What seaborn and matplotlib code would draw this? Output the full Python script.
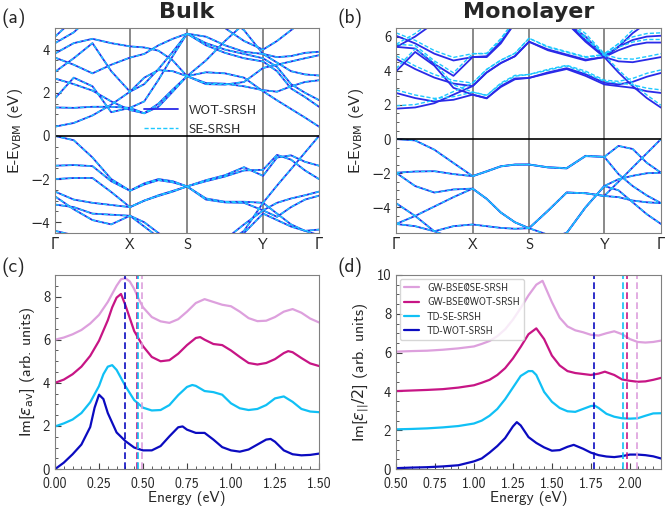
import numpy as np
import matplotlib
matplotlib.use("Agg")
import matplotlib.pyplot as plt
import seaborn as sns
from matplotlib.lines import Line2D
from matplotlib.ticker import MultipleLocator

# ---------------- data ----------------
# high-symmetry points (fraction of the k-path), 4 steps between nodes
kpath_labels = ["Γ", "X", "S", "Y", "Γ"]
bulk_knodes = [0.0, 0.284, 0.5, 0.788, 1.0]
mono_knodes = [0.0, 0.289, 0.502, 0.786, 1.0]

# bulk, WOT-SRSH (SE-SRSH lies on top of these within a pixel)
bulk_vb = [
    [0, -0.2, -1.0, -2.0, -2.54, -2.2, -2.0, -2.1, -2.34, -2.1, -1.88, -1.6, -1.57, -0.88, -1.1, -1.6, -2.0],
    [-1.38, -1.35, -1.4, -2.1, -2.54, -2.25, -2.05, -2.15, -2.34, -2.05, -1.82, -1.45, -1.85, -1.0, -0.9, -1.2, -1.38],
    [-2.0, -1.95, -1.95, -2.6, -3.3, -3.0, -2.75, -2.55, -2.34, -2.9, -3.05, -3.05, -3.1, -2.3, -1.54, -0.77, 0.0],
    [-2.58, -2.95, -3.1, -3.2, -3.3, -3.0, -2.78, -2.58, -2.34, -2.95, -3.08, -3.1, -3.45, -3.1, -2.9, -2.75, -2.58],
    [-3.18, -3.3, -3.6, -3.65, -3.7, -4.2, -4.7, -5.0, -5.2, -5.0, -4.8, -4.1, -3.45, -3.75, -3.3, -2.95, -2.77],
    [-2.8, -3.4, -3.9, -4.1, -3.7, -4.0, -4.5, -4.9, -5.2, -5.1, -4.95, -4.5, -3.6, -3.9, -4.2, -4.4, -4.34],
    [-4.4, -4.6, -4.9, -5.0, -5.0, -5.0, -5.0, -5.0, -5.0, -5.0, -5.0, -4.4, -3.1, -3.6, -4.1, -4.4, -4.6],
]
bulk_cb = [
    [0.43, 0.6, 0.95, 1.45, 2.05, 2.7, 3.05, 3.0, 2.77, 2.4, 2.38, 2.5, 3.15, 3.3, 3.45, 3.6, 3.74],
    [1.32, 1.3, 1.35, 1.35, 1.3, 1.05, 1.5, 2.15, 2.77, 2.95, 2.9, 2.7, 2.07, 1.65, 1.25, 0.85, 0.43],
    [1.74, 2.7, 2.3, 1.1, 1.3, 1.6, 2.6, 3.7, 4.74, 4.2, 3.85, 3.6, 3.45, 3.0, 2.2, 1.8, 1.35],
    [2.66, 2.4, 2.1, 1.6, 1.2, 1.05, 1.35, 2.05, 2.77, 2.45, 2.42, 2.3, 2.12, 2.05, 2.3, 2.5, 2.58],
    [2.97, 3.6, 4.3, 3.0, 2.05, 2.4, 3.1, 3.9, 4.74, 4.3, 4.0, 3.8, 3.6, 3.2, 2.4, 2.0, 1.66],
    [3.63, 3.3, 2.9, 3.3, 3.63, 3.8, 4.2, 4.5, 4.74, 4.6, 4.2, 3.9, 3.8, 3.4, 3.0, 2.85, 2.8],
    [3.82, 4.3, 4.5, 4.3, 4.15, 4.1, 3.95, 3.5, 2.77, 3.5, 4.4, 5.2, 5.6, 5.6, 5.6, 5.6, 5.6],
    [4.3, 4.8, 5.6, 5.6, 5.6, 5.6, 5.6, 5.6, 5.6, 5.6, 5.0, 4.4, 4.0, 4.4, 4.9, 5.4, 5.6],
    [4.6, 5.4, 5.6, 5.6, 5.6, 5.6, 5.6, 5.6, 5.6, 5.6, 5.6, 4.9, 3.8, 3.65, 3.7, 3.85, 3.9],
]

# monolayer valence bands (WOT and SE coincide)
mono_vb = [
    [0, -0.08, -0.62, -1.4, -2.17, -1.88, -1.59, -1.49, -1.49, -1.65, -1.7, -0.98, -1.04, -0.4, -0.58, -1.39, -1.97],
    [-1.97, -1.9, -1.88, -2.05, -2.17, -1.9, -1.6, -1.5, -1.49, -1.66, -1.72, -1.0, -1.04, -2.05, -2.75, -3.3, -3.75],
    [-1.97, -2.75, -3.13, -2.95, -2.9, -3.5, -4.3, -4.87, -5.22, -4.2, -3.13, -3.17, -3.33, -2.5, -1.66, -0.83, 0.0],
    [-3.75, -4.5, -5.4, -5.8, -5.8, -5.8, -5.8, -5.8, -5.8, -5.8, -5.5, -4.0, -2.75, -2.35, -2.15, -2.0, -1.97],
    [-4.97, -4.5, -3.95, -3.4, -2.9, -3.5, -4.3, -4.87, -5.22, -5.6, -5.8, -5.8, -5.8, -5.8, -5.8, -5.8, -5.8],
    [-4.97, -5.1, -5.4, -5.1, -5.0, -5.1, -5.2, -5.25, -5.22, -4.2, -3.13, -3.17, -3.33, -3.4, -3.6, -3.7, -3.75],
    [-5.8, -5.8, -5.8, -5.8, -5.8, -5.8, -5.8, -5.8, -5.8, -5.8, -5.5, -4.0, -2.75, -3.0, -3.7, -4.4, -4.97],
]
mono_cb_wot = [
    [1.78, 1.85, 2.1, 2.6, 3.1, 3.9, 4.45, 4.85, 5.7, 5.2, 4.9, 4.6, 4.8, 3.9, 3.1, 2.4, 1.84],
    [2.7, 2.4, 2.2, 2.3, 2.6, 2.38, 3.1, 3.55, 3.58, 3.9, 4.15, 3.8, 3.3, 3.2, 3.35, 3.65, 3.87],
    [3.96, 5.1, 4.3, 3.0, 2.6, 2.4, 3.05, 3.5, 3.58, 3.85, 4.1, 3.7, 3.2, 3.1, 3.0, 2.8, 2.7],
    [5.4, 5.3, 4.4, 3.7, 4.8, 4.8, 5.6, 6.8, 6.8, 6.8, 6.8, 5.7, 4.8, 4.55, 4.5, 4.65, 4.8],
    [4.7, 4.1, 3.6, 3.25, 3.1, 3.9, 4.45, 4.85, 5.7, 5.25, 4.95, 4.65, 4.8, 5.2, 5.5, 5.65, 5.65],
    [6.05, 5.6, 5.0, 4.6, 4.8, 4.85, 5.7, 6.8, 6.8, 6.8, 6.8, 6.0, 4.85, 5.4, 5.8, 6.0, 6.05],
    [5.38, 6.0, 6.8, 6.8, 6.8, 6.8, 6.8, 6.8, 6.8, 6.8, 6.8, 5.8, 4.8, 5.4, 6.2, 6.8, 6.8],
]
mono_cb_se = [
    [1.95, 2.02, 2.28, 2.78, 3.28, 4.08, 4.62, 5.02, 5.9, 5.38, 5.08, 4.78, 4.92, 4.05, 3.28, 2.58, 1.98],
    [2.88, 2.58, 2.38, 2.48, 2.75, 2.55, 3.28, 3.73, 3.78, 4.08, 4.32, 3.98, 3.45, 3.38, 3.55, 3.85, 4.05],
    [4.12, 5.28, 4.48, 3.18, 2.75, 2.57, 3.22, 3.68, 3.78, 4.03, 4.28, 3.88, 3.38, 3.28, 3.18, 2.98, 2.88],
    [5.55, 5.48, 4.58, 3.88, 5.0, 5.0, 5.8, 7.0, 7.0, 7.0, 7.0, 5.88, 4.95, 4.72, 4.68, 4.83, 5.0],
    [4.88, 4.28, 3.78, 3.43, 3.28, 4.08, 4.62, 5.02, 5.9, 5.42, 5.12, 4.82, 4.95, 5.38, 5.68, 5.83, 5.83],
    [6.22, 5.78, 5.18, 4.78, 5.0, 5.02, 5.88, 7.0, 7.0, 7.0, 7.0, 6.18, 5.0, 5.58, 5.98, 6.18, 6.22],
    [5.55, 6.18, 7.0, 7.0, 7.0, 7.0, 7.0, 7.0, 7.0, 7.0, 7.0, 5.98, 4.95, 5.58, 6.38, 7.0, 7.0],
]

# (c) bulk spectra
c_td_wot_x = [0, 0.05, 0.1, 0.15, 0.2, 0.225, 0.25, 0.275, 0.3, 0.35, 0.4, 0.45, 0.5, 0.55, 0.6, 0.65, 0.7, 0.725,
              0.75, 0.8, 0.85, 0.9, 0.95, 1.0, 1.05, 1.1, 1.15, 1.2, 1.225, 1.25, 1.3, 1.35, 1.4, 1.45, 1.5]
c_td_wot_y = [0, 0.3, 0.69, 1.14, 1.95, 2.85, 3.45, 3.25, 2.6, 1.7, 1.3, 1.0, 0.87, 0.87, 1.07, 1.52, 1.94, 1.98,
              1.83, 1.68, 1.68, 1.37, 1.02, 0.87, 0.81, 0.91, 1.14, 1.37, 1.4, 1.27, 0.87, 0.69, 0.64, 0.66, 0.72]
c_td_se_x = [0, 0.05, 0.1, 0.15, 0.2, 0.25, 0.275, 0.3, 0.325, 0.35, 0.4, 0.45, 0.5, 0.55, 0.6, 0.65, 0.7, 0.75,
             0.78, 0.8, 0.85, 0.9, 0.95, 1.0, 1.05, 1.1, 1.15, 1.2, 1.25, 1.3, 1.35, 1.4, 1.45, 1.5]
c_td_se_y = [1.98, 2.12, 2.3, 2.6, 3.1, 3.85, 4.4, 4.75, 4.82, 4.6, 3.85, 3.2, 2.85, 2.72, 2.74, 2.97, 3.43, 3.81,
             3.9, 3.86, 3.62, 3.57, 3.45, 3.05, 2.82, 2.74, 2.79, 2.97, 3.28, 3.37, 3.12, 2.79, 2.67, 2.64]
c_gw_wot_x = [0, 0.05, 0.1, 0.15, 0.2, 0.25, 0.3, 0.325, 0.35, 0.375, 0.4, 0.45, 0.5, 0.55, 0.6, 0.65, 0.7, 0.75,
              0.8, 0.825, 0.85, 0.9, 0.95, 1.0, 1.05, 1.1, 1.15, 1.2, 1.25, 1.3, 1.325, 1.35, 1.4, 1.45, 1.5]
c_gw_wot_y = [4.0, 4.15, 4.4, 4.75, 5.25, 5.95, 6.9, 7.5, 7.95, 8.12, 7.6, 6.4, 5.7, 5.2, 5.0, 5.05, 5.35, 5.75,
              6.08, 6.12, 6.0, 5.8, 5.75, 5.5, 5.2, 4.92, 4.85, 4.92, 5.1, 5.38, 5.47, 5.42, 5.15, 4.9, 4.78]
c_gw_se_x = [0, 0.05, 0.1, 0.15, 0.2, 0.25, 0.3, 0.35, 0.375, 0.4, 0.425, 0.45, 0.475, 0.5, 0.55, 0.6, 0.65, 0.7,
             0.75, 0.8, 0.85, 0.9, 0.95, 1.0, 1.05, 1.1, 1.15, 1.2, 1.25, 1.3, 1.35, 1.4, 1.45, 1.5]
c_gw_se_y = [6.0, 6.1, 6.25, 6.45, 6.75, 7.15, 7.75, 8.5, 8.8, 8.85, 8.7, 8.35, 7.9, 7.5, 7.05, 6.85, 6.78, 6.95,
             7.3, 7.7, 7.88, 7.75, 7.62, 7.55, 7.3, 7.0, 6.86, 6.88, 7.05, 7.3, 7.42, 7.25, 6.98, 6.8]
c_onsets = [0.40, 0.465, 0.473, 0.495]

# (d) monolayer spectra
d_td_wot_x = [0.5, 0.6, 0.7, 0.8, 0.9, 1.0, 1.05, 1.1, 1.15, 1.2, 1.25, 1.275, 1.3, 1.35, 1.4, 1.45, 1.5, 1.55,
              1.6, 1.64, 1.7, 1.75, 1.8, 1.85, 1.9, 1.95, 2.0, 2.05, 2.1, 2.15, 2.2]
d_td_wot_y = [0.05, 0.08, 0.1, 0.14, 0.2, 0.4, 0.55, 0.85, 1.19, 1.6, 2.2, 2.42, 2.25, 1.65, 1.35, 1.12, 0.95, 0.98,
              1.15, 1.25, 1.05, 0.85, 0.72, 0.65, 0.62, 0.67, 0.75, 0.75, 0.72, 0.66, 0.55]
d_td_se_x = [0.5, 0.6, 0.7, 0.8, 0.9, 1.0, 1.05, 1.1, 1.15, 1.2, 1.25, 1.3, 1.35, 1.375, 1.4, 1.45, 1.5, 1.55,
             1.6, 1.65, 1.7, 1.75, 1.775, 1.8, 1.85, 1.9, 1.95, 2.0, 2.05, 2.1, 2.15, 2.2]
d_td_se_y = [2.05, 2.07, 2.1, 2.15, 2.22, 2.35, 2.5, 2.75, 3.1, 3.6, 4.2, 4.8, 5.05, 5.05, 4.85, 3.98, 3.47, 3.15,
             2.98, 2.95, 3.1, 3.25, 3.27, 3.15, 2.85, 2.7, 2.62, 2.6, 2.62, 2.75, 2.87, 2.88]
d_gw_wot_x = [0.5, 0.6, 0.7, 0.8, 0.9, 1.0, 1.05, 1.1, 1.15, 1.2, 1.25, 1.3, 1.35, 1.4, 1.45, 1.5, 1.55, 1.6,
              1.65, 1.7, 1.75, 1.8, 1.84, 1.9, 1.95, 2.0, 2.05, 2.1, 2.15, 2.2]
d_gw_wot_y = [4.02, 4.05, 4.08, 4.12, 4.2, 4.32, 4.45, 4.6, 4.85, 5.2, 5.7, 6.3, 6.95, 7.25, 6.7, 5.85, 5.34, 5.05,
              4.95, 4.9, 4.85, 4.92, 5.02, 4.85, 4.62, 4.55, 4.5, 4.52, 4.6, 4.7]
d_gw_se_x = [0.5, 0.6, 0.7, 0.8, 0.9, 1.0, 1.05, 1.1, 1.15, 1.2, 1.25, 1.3, 1.35, 1.4, 1.44, 1.5, 1.55, 1.6,
             1.65, 1.7, 1.75, 1.8, 1.85, 1.9, 1.95, 2.0, 2.05, 2.1, 2.15, 2.2]
d_gw_se_y = [6.05, 6.08, 6.1, 6.15, 6.22, 6.32, 6.45, 6.6, 6.85, 7.2, 7.7, 8.3, 8.95, 9.5, 9.7, 8.6, 7.8, 7.35,
             7.15, 7.05, 6.92, 6.88, 7.0, 7.1, 6.95, 6.7, 6.55, 6.52, 6.55, 6.62]
d_onsets = [1.772, 1.958, 1.984, 2.046]

# ---------------- style ----------------
WOT_BAND = "#2a2ae8"
SE_BAND = "#1ec8ff"
C_TD_WOT = "#0b0bc0"
C_TD_SE = "#10c0f5"
C_GW_WOT = "#c71585"
C_GW_SE = "#dda0dd"

sns.set_style("ticks")
plt.rcParams["font.family"] = ["cmss10", "DejaVu Sans"]
plt.rcParams["mathtext.fontset"] = "dejavusans"
plt.rcParams["axes.edgecolor"] = "0.5"
plt.rcParams["axes.unicode_minus"] = True


def kgrid(nodes):
    pts = [nodes[0]]
    for a, b in zip(nodes[:-1], nodes[1:]):
        pts += list(np.linspace(a, b, 5)[1:])
    return np.array(pts)


def style_axis(ax):
    ax.tick_params(which="both", direction="in", labelsize=10.5, color="0.25")
    ax.tick_params(which="major", length=4.5)
    ax.tick_params(which="minor", length=2.5)


def draw_bands(ax, knodes, wot, se, ylim, title):
    k = kgrid(knodes)
    for e in wot:
        ax.plot(k, e, color=WOT_BAND, lw=1.3)
    for e in se:
        ax.plot(k, e, color=SE_BAND, lw=1.0, ls=(0, (3, 1.5)))
    for kn in knodes[1:-1]:
        ax.axvline(kn, color="0.5", lw=1.3, zorder=0)
    ax.axhline(0, color="black", lw=1.2)
    ax.set_xlim(0, 1)
    ax.set_ylim(*ylim)
    ax.set_xticks(knodes)
    ax.set_xticklabels(kpath_labels, fontsize=12)
    ax.yaxis.set_major_locator(MultipleLocator(2))
    ax.yaxis.set_minor_locator(MultipleLocator(0.5))
    style_axis(ax)
    ax.tick_params(axis="x", length=0)
    ax.set_ylabel(r"E-E$_{\rm VBM}$ (eV)", fontsize=11.5)
    ax.set_title(title, fontweight="bold", fontsize=16, pad=7, family=["DejaVu Sans"])


def draw_spectra(ax, curves, onsets, onset_colors, xlim, ylim, ylabel):
    for x, y, col in curves:
        sns.lineplot(x=x, y=y, ax=ax, color=col, lw=1.6)
    for xo, col in zip(onsets, onset_colors):
        ax.axvline(xo, color=col, lw=1.2, ls=(0, (4, 2)))
    ax.set_xlim(*xlim)
    ax.set_ylim(*ylim)
    ax.xaxis.set_major_locator(MultipleLocator(0.25))
    ax.xaxis.set_minor_locator(MultipleLocator(0.05))
    ax.yaxis.set_major_locator(MultipleLocator(2))
    ax.yaxis.set_minor_locator(MultipleLocator(0.5))
    ax.xaxis.set_major_formatter(plt.FormatStrFormatter("%.2f"))
    style_axis(ax)
    ax.tick_params(axis="x", pad=6, labelsize=10)
    ax.set_xlabel("Energy (eV)", fontsize=11, labelpad=0)
    ax.set_ylabel(ylabel, fontsize=11.5)


fig = plt.figure(figsize=(6.65, 5.08), dpi=100)
ax_a = fig.add_axes([0.0827, 0.5413, 0.397, 0.4035])
ax_b = fig.add_axes([0.5955, 0.5413, 0.3985, 0.4035])
ax_c = fig.add_axes([0.0827, 0.0765, 0.397, 0.3822])
ax_d = fig.add_axes([0.5955, 0.0765, 0.3985, 0.3822])

draw_bands(ax_a, bulk_knodes, bulk_vb + bulk_cb, bulk_vb + bulk_cb, (-4.5, 5), "Bulk")
draw_bands(ax_b, mono_knodes, mono_vb + mono_cb_wot, mono_vb + mono_cb_se, (-5.5, 6.5), "Monolayer")

band_handles = [Line2D([], [], color=WOT_BAND, lw=1.3),
                Line2D([], [], color=SE_BAND, lw=1.0, ls=(0, (3, 1.5)))]
ax_a.legend(band_handles, ["WOT-SRSH", "SE-SRSH"], loc="center", bbox_to_anchor=(0.55, 0.55),
            frameon=False, fontsize=9.5, handlelength=2.6)

draw_spectra(ax_c,
             [(c_gw_se_x, c_gw_se_y, C_GW_SE), (c_gw_wot_x, c_gw_wot_y, C_GW_WOT),
              (c_td_se_x, c_td_se_y, C_TD_SE), (c_td_wot_x, c_td_wot_y, C_TD_WOT)],
             c_onsets, [C_TD_WOT, C_GW_WOT, C_TD_SE, C_GW_SE], (0, 1.5), (0, 9),
             r"Im[$\epsilon_{\rm av}$] (arb. units)")
draw_spectra(ax_d,
             [(d_gw_se_x, d_gw_se_y, C_GW_SE), (d_gw_wot_x, d_gw_wot_y, C_GW_WOT),
              (d_td_se_x, d_td_se_y, C_TD_SE), (d_td_wot_x, d_td_wot_y, C_TD_WOT)],
             d_onsets, [C_TD_WOT, C_TD_SE, C_GW_WOT, C_GW_SE], (0.5, 2.2), (0, 10),
             r"Im[$\epsilon_{||}/2$] (arb. units)")

spec_handles = [Line2D([], [], color=c, lw=1.6) for c in (C_GW_SE, C_GW_WOT, C_TD_SE, C_TD_WOT)]
ax_d.legend(spec_handles, ["GW-BSE@SE-SRSH", "GW-BSE@WOT-SRSH", "TD-SE-SRSH", "TD-WOT-SRSH"],
            loc="upper left", fontsize=7, handlelength=1.6, edgecolor="0.8", borderaxespad=0.4,
            labelspacing=0.45)

for lab, x, y in [("(a)", 0.003, 0.984), ("(b)", 0.508, 0.984), ("(c)", 0.003, 0.494), ("(d)", 0.508, 0.494)]:
    fig.text(x, y, lab, fontsize=14, va="top", ha="left")

fig.savefig("out.png", dpi=100)
